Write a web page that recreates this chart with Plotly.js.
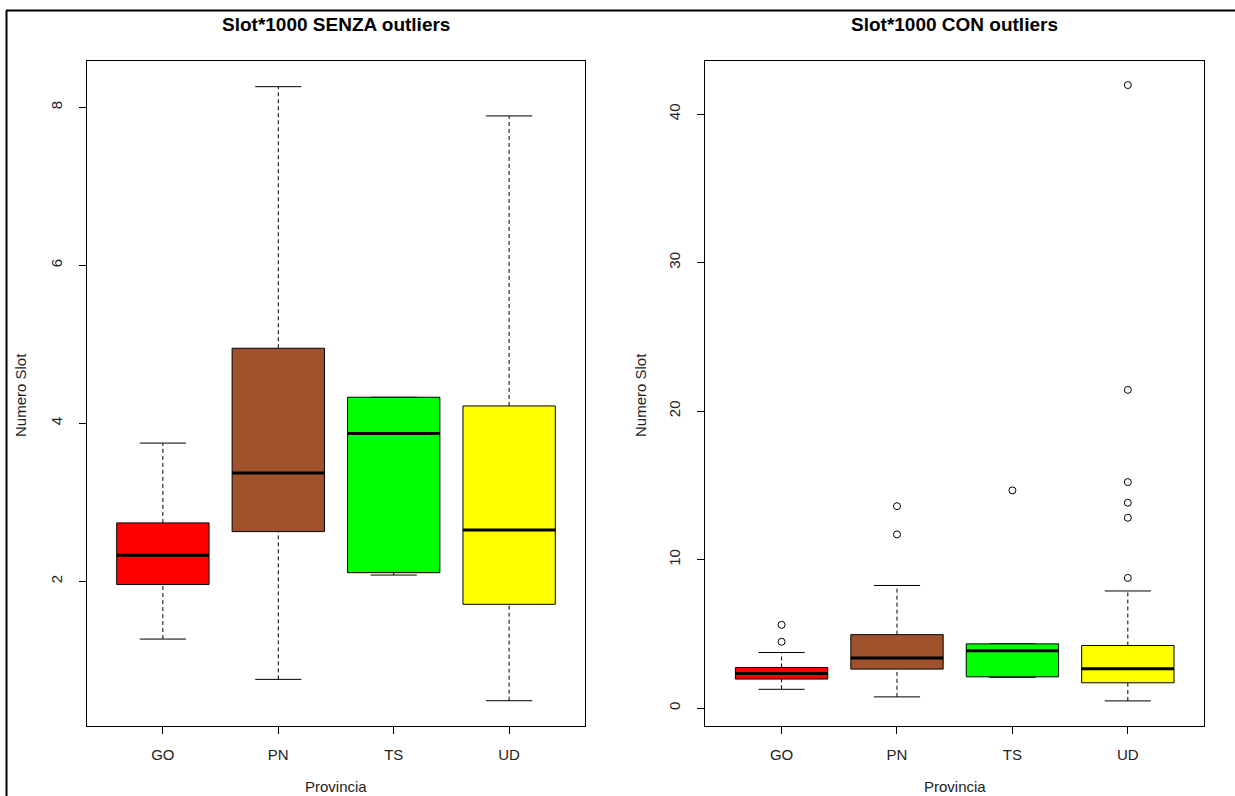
<!DOCTYPE html>
<html>
<head>
<meta charset="utf-8">
<script src="https://cdn.plot.ly/plotly-3.0.1.min.js"></script>
<style>
  html, body { margin: 0; padding: 0; background: #ffffff; }
  #chart { width: 1235px; height: 796px; }
</style>
</head>
<body>
<div id="chart"></div>
<script>
// ---- Data ----
const categories = ['GO', 'PN', 'TS', 'UD'];
const boxColors = ['#FF0000', '#A0522D', '#00FF00', '#FFFF00'];
const lowerWhisker = [1.27, 0.76, 2.08, 0.49];
const q1Values = [1.96, 2.63, 2.11, 1.71];
const medianValues = [2.33, 3.37, 3.87, 2.65];
const q3Values = [2.74, 4.95, 4.33, 4.22];
const upperWhisker = [3.75, 8.26, 4.33, 7.89];
const outlierCategory = ['GO', 'GO', 'PN', 'PN', 'TS', 'UD', 'UD', 'UD', 'UD', 'UD', 'UD'];
const outlierValue = [5.61, 4.47, 13.6, 11.7, 14.66, 41.95, 21.43, 15.22, 13.83, 12.82, 8.77];
const leftTickValues = [2, 4, 6, 8];
const rightTickValues = [0, 10, 20, 30, 40];
const panelTitles = ['Slot*1000 SENZA outliers', 'Slot*1000 CON outliers'];
const xAxisLabel = 'Provincia';
const yAxisLabel = 'Numero Slot';

// ---- Styling constants ----
const W = 1235, H = 796;
const BOX_HALF = 0.4, CAP_HALF = 0.2;
const FONT = 'Liberation Sans, Arial, sans-serif';

function pos(cat) { return categories.indexOf(cat) + 1; }

function panelTraces(xa, ya, withOutliers) {
  const traces = [];
  // dashed whiskers
  const wx = [], wy = [];
  categories.forEach((c, i) => {
    const p = i + 1;
    if (upperWhisker[i] > q3Values[i]) { wx.push(p, p, null); wy.push(q3Values[i], upperWhisker[i], null); }
    if (lowerWhisker[i] < q1Values[i]) { wx.push(p, p, null); wy.push(lowerWhisker[i], q1Values[i], null); }
  });
  traces.push({ type: 'scatter', mode: 'lines', x: wx, y: wy, xaxis: xa, yaxis: ya,
    line: { color: '#000', width: 1, dash: '4px,3px' }, hoverinfo: 'skip', showlegend: false });
  // whisker caps
  const cx = [], cy = [];
  categories.forEach((c, i) => {
    const p = i + 1;
    cx.push(p - CAP_HALF, p + CAP_HALF, null, p - CAP_HALF, p + CAP_HALF, null);
    cy.push(upperWhisker[i], upperWhisker[i], null, lowerWhisker[i], lowerWhisker[i], null);
  });
  traces.push({ type: 'scatter', mode: 'lines', x: cx, y: cy, xaxis: xa, yaxis: ya,
    line: { color: '#000', width: 1 }, hoverinfo: 'skip', showlegend: false });
  // boxes
  categories.forEach((c, i) => {
    const p = i + 1;
    traces.push({ type: 'scatter', mode: 'lines', xaxis: xa, yaxis: ya,
      x: [p - BOX_HALF, p + BOX_HALF, p + BOX_HALF, p - BOX_HALF, p - BOX_HALF],
      y: [q1Values[i], q1Values[i], q3Values[i], q3Values[i], q1Values[i]],
      fill: 'toself', fillcolor: boxColors[i], line: { color: '#000', width: 1 },
      hoverinfo: 'skip', showlegend: false });
  });
  // medians
  const mx = [], my = [];
  categories.forEach((c, i) => {
    const p = i + 1;
    mx.push(p - BOX_HALF, p + BOX_HALF, null);
    my.push(medianValues[i], medianValues[i], null);
  });
  traces.push({ type: 'scatter', mode: 'lines', x: mx, y: my, xaxis: xa, yaxis: ya,
    line: { color: '#000', width: 3 }, hoverinfo: 'skip', showlegend: false });
  if (withOutliers) {
    traces.push({ type: 'scatter', mode: 'markers', xaxis: xa, yaxis: ya,
      x: outlierCategory.map(pos), y: outlierValue,
      marker: { symbol: 'circle-open', size: 7, color: '#000', line: { width: 1, color: '#000' } },
      hoverinfo: 'skip', showlegend: false });
  }
  return traces;
}

const data = panelTraces('x', 'y', false).concat(panelTraces('x2', 'y2', true));

const xDom1 = [86.7 / W, 585.3 / W];
const xDom2 = [705.4 / W, 1204 / W];
const yDom = [1 - 726 / H, 1 - 61 / H];

function xAxis(dom, anchor) {
  return {
    domain: dom, anchor: anchor, range: [0.34, 4.66],
    tickmode: 'array', tickvals: categories.map(pos), ticktext: categories,
    ticks: 'outside', ticklen: 7, tickwidth: 1, tickcolor: '#000',
    showgrid: false, zeroline: false, showline: true, mirror: true,
    linecolor: '#000', linewidth: 1, fixedrange: true,
    tickfont: { family: FONT, size: 15, color: '#222' }, ticklabelstandoff: 8
  };
}
function yAxis(dom, anchor, range, tv) {
  return {
    domain: dom, anchor: anchor, range: range,
    tickmode: 'array', tickvals: tv, ticktext: tv.map(String), tickangle: -90,
    ticks: 'outside', ticklen: 7, tickwidth: 1, tickcolor: '#000',
    showgrid: false, zeroline: false, showline: true, mirror: true,
    linecolor: '#000', linewidth: 1, fixedrange: true,
    tickfont: { family: FONT, size: 15, color: '#222' }, ticklabelstandoff: 11
  };
}

const annotations = [];
[xDom1, xDom2].forEach((d, k) => {
  const cxp = (d[0] + d[1]) / 2;
  annotations.push({ xref: 'paper', yref: 'paper', x: cxp, y: 1 - 25 / H, xanchor: 'center', yanchor: 'middle',
    text: '<b>' + panelTitles[k] + '</b>', showarrow: false, font: { family: FONT, size: 19, color: '#000' } });
  annotations.push({ xref: 'paper', yref: 'paper', x: cxp, y: 1 - 786 / H, xanchor: 'center', yanchor: 'middle',
    text: xAxisLabel, showarrow: false, font: { family: FONT, size: 15, color: '#222' } });
});
[20, 640].forEach(px => {
  annotations.push({ xref: 'paper', yref: 'paper', x: px / W, y: 1 - 395 / H, xanchor: 'center', yanchor: 'middle',
    text: yAxisLabel, textangle: -90, showarrow: false, font: { family: FONT, size: 15, color: '#222' } });
});

const layout = {
  width: W, height: H,
  margin: { l: 0, r: 0, t: 0, b: 0 },
  paper_bgcolor: '#fff', plot_bgcolor: '#fff',
  showlegend: false,
  xaxis: xAxis(xDom1, 'y'),
  yaxis: yAxis(yDom, 'x', [0.17, 8.585], leftTickValues),
  xaxis2: xAxis(xDom2, 'y2'),
  yaxis2: yAxis(yDom, 'x2', [-1.2, 43.57], rightTickValues),
  annotations: annotations,
  shapes: [
    { type: 'line', xref: 'paper', yref: 'paper', x0: 6 / W, x1: 1, y0: 1 - 10.5 / H, y1: 1 - 10.5 / H, line: { color: '#000', width: 2 } },
    { type: 'line', xref: 'paper', yref: 'paper', x0: 6.5 / W, x1: 6.5 / W, y0: 0, y1: 1 - 10.5 / H, line: { color: '#000', width: 2 } }
  ]
};

Plotly.newPlot('chart', data, layout, { staticPlot: true, displayModeBar: false });
</script>
</body>
</html>
